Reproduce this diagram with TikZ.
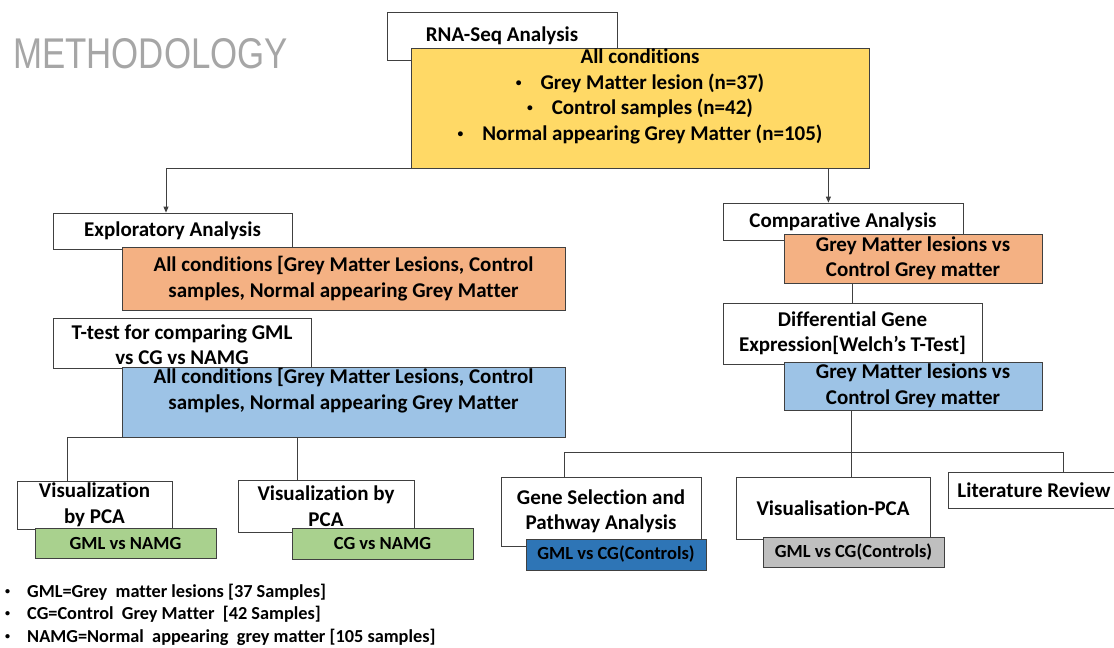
\documentclass[tikz,border=0pt]{standalone}
\usepackage{fontspec}
\usepackage{graphicx}
\setmainfont{Carlito}[Ligatures={NoCommon}]
\newfontfamily\titlefont{Liberation Sans}
\usetikzlibrary{arrows.meta,calc}
\definecolor{cyellow}{HTML}{FFD966}
\definecolor{corange}{HTML}{F4B183}
\definecolor{cblue}{HTML}{9DC3E6}
\definecolor{cgreen}{HTML}{A9D18E}
\definecolor{cdblue}{HTML}{2E75B6}
\definecolor{cgray}{HTML}{BFBFBF}
\definecolor{cedge}{HTML}{404040}
\definecolor{ctitle}{HTML}{A6A6A6}
\newcommand\txtmain{\fontsize{21}{25.5}\selectfont\bfseries}
\newcommand\txtsmall{\fontsize{18.5}{22}\selectfont\bfseries}
\newcommand\txtleg{\fontsize{18.3}{22.5}\selectfont\bfseries}
\newcommand\smallbul{\raisebox{0.14em}{\scalebox{0.55}{•}}}
\begin{document}
\begin{tikzpicture}[x=1pt,y=-1pt,
  wbox/.style={draw=cedge, fill=white, line width=0.8pt, inner sep=0pt, align=center, font=\txtmain},
  cbox/.style={draw=cedge, line width=0.8pt, inner sep=0pt, align=center, font=\txtmain},
  sbox/.style={cbox, font=\txtsmall},
  conn/.style={draw=cedge, line width=0.8pt},
  arr/.style={conn, -{Triangle[length=6pt,width=5pt]}}]
\useasboundingbox (0,0) rectangle (1114,648);
\clip (0,0) rectangle (1114,648);
\fill[white] (0,0) rectangle (1114,648);

% title
\node[anchor=base west, inner sep=0pt, text=ctitle, font=\titlefont\fontsize{43}{43}\selectfont] (title) at (13,68) {\scalebox{0.81}[1]{METHODOLOGY}};

% top
\node[wbox, minimum width=230, minimum height=48] (rna) at (502,36) {RNA-Seq Analysis};
\node[cbox, fill=cyellow, minimum width=458, minimum height=120] (yellow) at (640,108) {};
\node[font=\txtmain, align=center, inner sep=0pt] (ytxt) at (640,96.5) {All conditions\\
  \smallbul\hspace{19pt}Grey Matter lesion (n=37)\\
  \smallbul\hspace{19pt}Control samples (n=42)\\
  \smallbul\hspace{19pt}Normal appearing Grey Matter (n=105)};

% left branch
\node[wbox, minimum width=239, minimum height=36] (expl) at (172.5,231) {Exploratory Analysis};
\node[cbox, fill=corange, minimum width=443, minimum height=63] (or1) at (343.5,278.5) {All conditions [Grey Matter Lesions, Control\\samples, Normal appearing Grey Matter};
\node[wbox, minimum width=258, minimum height=50] (ttest) at (182,343) {};
\node[cbox, fill=cblue, minimum width=443, minimum height=70] (bl1) at (343.5,402) {};
\node[font=\txtmain, align=center, inner sep=0pt] (ttxt) at (182,344.5) {T-test for comparing GML\\vs CG vs NAMG};
\node[font=\txtmain, align=center, inner sep=0pt] (bl1txt) at (343.5,390.5) {All conditions [Grey Matter Lesions, Control\\samples, Normal appearing Grey Matter};

\node[wbox, minimum width=155, minimum height=48] (vis1) at (94.5,505) {Visualization\\by PCA};
\node[sbox, fill=cgreen, minimum width=181, minimum height=30] (gr1) at (125.5,543) {GML vs NAMG};
\node[wbox, minimum width=176, minimum height=52] (vis2) at (326,506) {Visualization by\\PCA};
\node[sbox, fill=cgreen, minimum width=181, minimum height=31] (gr2) at (382.5,543.5) {CG vs NAMG};

% right branch
\node[wbox, minimum width=240, minimum height=37] (comp) at (843,221.5) {Comparative Analysis};
\node[cbox, fill=corange, minimum width=258, minimum height=49] (or2) at (913,258.5) {Grey Matter lesions vs\\Control Grey matter};
\node[wbox, minimum width=259, minimum height=61] (diff) at (852.5,333.5) {Differential Gene\\Expression[Welch’s T-Test]};
\node[cbox, fill=cblue, minimum width=258, minimum height=48] (bl2) at (913,386) {Grey Matter lesions vs\\Control Grey matter};

\node[wbox, minimum width=200, minimum height=69] (gene) at (601,511.5) {Gene Selection and\\Pathway Analysis};
\node[sbox, fill=cdblue, minimum width=180, minimum height=31] (dbl) at (616,554.5) {GML vs CG(Controls)};
\node[wbox, minimum width=194, minimum height=62] (vpca) at (833,508) {Visualisation-PCA};
\node[sbox, fill=cgray, minimum width=181, minimum height=30] (gry) at (853.5,552) {GML vs CG(Controls)};
\node[wbox, minimum width=172, minimum height=36] (lit) at (1034,490) {Literature Review};

% connectors
\draw[arr] (yellow.south west) -| ([xshift=-6.5pt]expl.north);
\draw[arr] ([xshift=-41pt]yellow.south east) -- ([xshift=-41pt]yellow.south east |- comp.north);
\draw[conn] (or2.south -| diff.north) -- (diff.north);

\coordinate (bl) at (67,437.5);
\coordinate (br) at (297,437.5);
\draw[conn] (vis1.north -| bl) -- (bl) -- (br) -- (vis2.north -| br);

\coordinate (hub) at (851.5,452);
\coordinate (hl) at (564,452);
\coordinate (hr) at (1063,452);
\draw[conn] (bl2.south -| hub) -- (vpca.north -| hub);
\draw[conn] (gene.north -| hl) -- (hl) -- (hr) -- (lit.north -| hr);

% legend
\node[anchor=west, inner sep=0pt, font=\txtleg] (legend) at (5,615) {%
\begin{tabular}{@{}l@{\hspace{17pt}}l@{}}
\smallbul&GML=Grey\ \ matter lesions [37 Samples]\\
\smallbul&CG=Control\ \ Grey Matter\ \ [42 Samples]\\
\smallbul&NAMG=Normal\ \ appearing\ \ grey matter [105 samples]
\end{tabular}};
\end{tikzpicture}
\end{document}
